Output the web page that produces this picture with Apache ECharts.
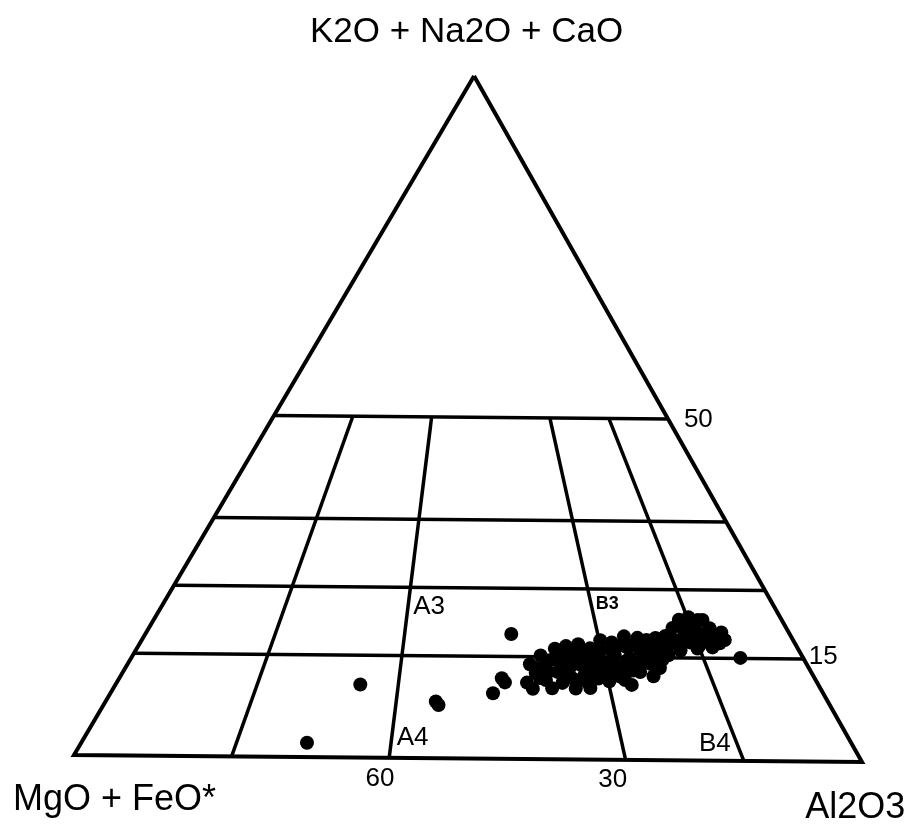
<!DOCTYPE html>
<html>
<head>
<meta charset="utf-8">
<script src="https://cdn.jsdelivr.net/npm/echarts@6/dist/echarts.min.js"></script>
<style>
  html, body { margin: 0; padding: 0; background: #fff; }
  #chart { width: 920px; height: 827px; }
</style>
</head>
<body>
<div id="chart"></div>
<script>
// samples, percent: CNK = K2O + Na2O + CaO, A = Al2O3, the rest is MgO + FeO*
const cnk = [11.2, 10.3, 13.9, 12.6, 15.2, 13.6, 11.6, 10.4, 16.2, 14.5, 12.8, 11.2, 16.6, 15.1, 13.5, 11.9, 10.4,
  16.9, 15.4, 14.0, 12.5, 11.2, 16.3, 14.7, 13.4, 11.9, 16.0, 14.4, 12.9, 11.5, 17.2, 15.4, 13.8, 12.2, 18.1,
  16.5, 14.9, 13.1, 11.0, 17.9, 16.1, 14.5, 17.6, 16.1, 12.3, 17.9, 16.4, 14.7, 18.2, 16.7, 19.4, 17.6, 20.6,
  16.1, 18.8, 21.0, 17.3, 19.8, 16.4, 18.6, 20.6, 17.5, 19.4, 16.6, 18.3, 17.2, 18.8, 15.1, 12.8, 13.8, 14.6,
  13.1, 15.0, 13.4, 11.6, 11.9, 16.6, 14.3, 14.1, 16.9, 17.6, 17.6, 18.5, 16.0, 12.2, 13.1, 15.4, 14.6, 14.6,
  13.4, 14.5, 15.7, 12.1, 10.5, 17.5, 16.1, 11.7, 12.9, 14.7, 15.4, 17.9, 19.1, 19.8, 16.9, 17.7, 17.7, 20.6,
  16.9, 16.8, 13.9, 12.9, 13.5,
  18.3, 11.8, 11.2, 9.6, 8.3, 7.8, 10.7, 2.1]
const al2o3 = [51.8, 53.0, 50.8, 52.2, 51.5, 52.8, 54.0, 55.4, 52.8, 53.9, 54.9, 56.3, 54.0, 55.0, 56.1, 57.2, 58.4,
  55.4, 56.5, 57.5, 58.5, 59.6, 57.2, 58.3, 59.3, 60.5, 58.6, 59.8, 61.0, 62.1, 59.5, 60.8, 62.0, 63.1, 60.6,
  61.8, 63.0, 64.3, 65.2, 62.4, 63.7, 64.9, 63.7, 65.0, 67.3, 64.7, 65.8, 67.2, 65.8, 66.9, 66.1, 67.4, 66.3,
  68.8, 67.9, 67.3, 69.4, 68.7, 70.8, 70.0, 69.3, 71.3, 70.8, 72.6, 72.1, 73.2, 72.6, 76.9, 53.7, 55.0, 56.2,
  58.5, 58.8, 60.6, 58.3, 53.1, 60.5, 64.0, 66.0, 65.9, 68.7, 70.2, 71.0, 54.8, 59.7, 63.0, 64.7, 62.8, 60.9,
  51.7, 53.0, 53.7, 56.2, 60.2, 57.9, 59.9, 64.0, 65.3, 66.3, 67.6, 66.5, 68.5, 67.1, 70.8, 72.0, 73.6, 68.7,
  63.9, 62.3, 57.2, 62.1, 67.5,
  46.2, 48.3, 49.0, 48.3, 41.7, 42.3, 30.9, 28.5]

// field boundaries
const cnkLevels = [50, 35, 25, 15]          // horizontal lines
const fmShares = [80, 60, 30, 15]           // MgO+FeO* / (MgO+FeO* + Al2O3), lines toward the apex

// text, placed in the same ternary frame
const noteText = ['50', '15', '60', '30', 'A3', 'B3', 'A4', 'B4']
const noteCnk = [49.9, 15.3, -3.1, -3.0, 22.2, 22.8, 2.9, 2.4]
const noteAl2o3 = [53.9, 87.3, 40.4, 69.9, 33.8, 56.1, 41.5, 80.1]
const cornerText = ['K2O + Na2O + CaO', 'MgO + FeO*', 'Al2O3']
const cornerCnk = [106.4, -6.6, -6.8]
const cornerAl2o3 = [-4.2, 8.5, 102.6]

const SIDE = 788
const TILT = 0.0089   // the scan is turned a little

function toXY(c, a) {
  const u = (a + c / 2) / 100 * SIDE
  const v = c / 100 * SIDE * Math.sqrt(3) / 2
  return [u + v * TILT, v - u * TILT]
}

function lineSeries(points, width) {
  return {
    type: 'line',
    data: points,
    symbol: 'none',
    silent: true,
    z: 2,
    lineStyle: { color: '#000', width: width, join: 'miter', cap: 'butt' }
  }
}

const series = []
series.push(lineSeries([toXY(100, 0), toXY(0, 0), toXY(0, 100), toXY(100, 0)], 4))
cnkLevels.forEach(c => {
  series.push(lineSeries([toXY(c, 0), toXY(c, 100 - c)], 3.5))
})
fmShares.forEach(r => {
  series.push(lineSeries([toXY(50, 50 * (100 - r) / 100), toXY(0, 100 - r)], 3.5))
})

series.push({
  type: 'scatter',
  symbolSize: 14,
  z: 5,
  itemStyle: { color: '#000', opacity: 1 },
  data: cnk.map((c, i) => toXY(c, al2o3[i]))
})

function textSeries(names, cs, as, size, extra) {
  return {
    type: 'scatter',
    symbolSize: 0,
    z: 6,
    silent: true,
    itemStyle: { opacity: 1 },
    label: {
      show: true,
      position: 'inside',
      color: '#000',
      opacity: 1,
      fontFamily: 'Liberation Sans',
      fontSize: size,
      formatter: p => p.name
    },
    data: names.map((t, i) => {
      const item = { name: t, value: toXY(cs[i], as[i]) }
      if (extra[t]) item.label = extra[t]
      return item
    })
  }
}

series.push(textSeries(noteText, noteCnk, noteAl2o3, 26, { B3: { fontSize: 18, fontWeight: 'bold' } }))
series.push(textSeries(cornerText, cornerCnk, cornerAl2o3, 36, { 'K2O + Na2O + CaO': { fontSize: 35 } }))

const chart = echarts.init(document.getElementById('chart'))
chart.setOption({
  animation: false,
  backgroundColor: '#fff',
  grid: { left: 0, right: 0, top: 0, bottom: 0 },
  xAxis: { type: 'value', min: -74, max: 846, show: false },
  yAxis: { type: 'value', min: -72, max: 755, show: false },
  series: series
})
</script>
</body>
</html>
